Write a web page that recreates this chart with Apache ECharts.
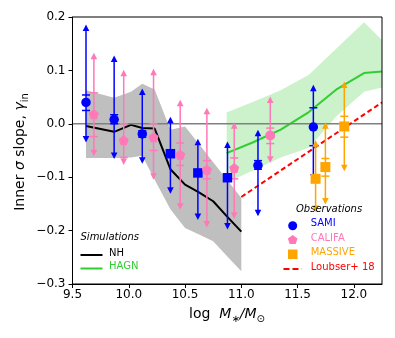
<!DOCTYPE html>
<html>
<head>
<meta charset="utf-8">
<script src="https://cdn.jsdelivr.net/npm/echarts@6/dist/echarts.min.js"></script>
<style>
html,body{margin:0;padding:0;background:#fff;}
#c{width:395px;height:338px;}
</style>
</head>
<body>
<div id="c"></div>
<script>
// ---- Data ----
// NH simulation (black line + grey band)
const NH_X  = [9.62, 9.87, 10.02, 10.12, 10.23, 10.37, 10.5, 10.62, 10.75, 10.87, 11.0];
const NH_Y  = [-0.004, -0.015, -0.002, -0.008, -0.009, -0.085, -0.114, -0.128, -0.145, -0.173, -0.202];
const NH_HI = [0.063, 0.049, 0.060, 0.075, 0.064, -0.011, -0.005, -0.037, -0.072, -0.104, -0.139];
const NH_LO = [-0.064, -0.064, -0.063, -0.060, -0.105, -0.160, -0.195, -0.207, -0.220, -0.247, -0.276];
// HAGN simulation (green line + light green band)
const HAGN_X  = [10.87, 11.1, 11.35, 11.6, 11.85, 12.09, 12.25];
const HAGN_Y  = [-0.055, -0.035, -0.011, 0.022, 0.065, 0.095, 0.098];
const HAGN_HI = [0.021, 0.041, 0.063, 0.092, 0.142, 0.190, 0.157];
const HAGN_LO = [-0.110, -0.088, -0.063, -0.045, 0.015, 0.060, 0.068];
// SAMI observations
const SAMI_X     = [9.62, 9.87, 10.12, 10.37, 10.614, 10.877, 11.148, 11.64];
const SAMI_Y     = [0.040, 0.008, -0.019, -0.056, -0.092, -0.101, -0.078, -0.006];
const SAMI_CAPHI = [0.054, 0.017, -0.013, -0.050, -0.086, -0.095, -0.069, 0.030];
const SAMI_CAPLO = [0.025, 0.000, -0.025, -0.062, -0.098, -0.107, -0.085, -0.041];
const SAMI_HI    = [0.186, 0.128, 0.066, 0.013, -0.028, -0.033, -0.011, 0.073];
const SAMI_LO    = [-0.035, -0.066, -0.075, -0.131, -0.180, -0.198, -0.173, -0.106];
// CALIFA observations
const CALIFA_X     = [9.69, 9.955, 10.22, 10.457, 10.694, 10.937, 11.257];
const CALIFA_Y     = [0.018, -0.031, -0.025, -0.058, -0.086, -0.083, -0.022];
const CALIFA_CAPHI = [0.058, 0.000, 0.000, -0.036, -0.069, -0.064, -0.008];
const CALIFA_CAPLO = [-0.024, -0.063, -0.050, -0.078, -0.103, -0.103, -0.037];
const CALIFA_HI    = [0.133, 0.101, 0.103, 0.045, 0.030, 0.003, 0.051];
const CALIFA_LO    = [-0.061, -0.077, -0.105, -0.161, -0.194, -0.178, -0.073];
// MASSIVE observations
const MASSIVE_X     = [11.66, 11.747, 11.915];
const MASSIVE_Y     = [-0.103, -0.081, -0.005];
const MASSIVE_CAPHI = [-0.097, -0.065, 0.014];
const MASSIVE_CAPLO = [-0.109, -0.098, -0.025];
const MASSIVE_HI    = [-0.031, 0.003, 0.079];
const MASSIVE_LO    = [-0.165, -0.151, -0.089];
// Loubser+18 relation (end points)
const LOUBSER_X = [11.0, 12.25];
const LOUBSER_Y = [-0.137, 0.040];
// Axes
const X_MIN = 9.5, X_MAX = 12.25, X_STEP = 0.5;
const Y_MIN = -0.3, Y_MAX = 0.2, Y_STEP = 0.1;

// ---- Styles ----
const C_SAMI = '#0000ff', C_CALIFA = '#ff78b8', C_MASSIVE = '#ffa500';
const C_GREEN = '#32cd32', C_RED = '#ff0000';
const FONT = 'DejaVu Sans';
const PENTAGON = 'path://M0,-10 L9.51,-3.09 L5.88,8.09 L-5.88,8.09 L-9.51,-3.09 Z';
const SAMI_SHAPES = ['circle','circle','circle','rect','rect','rect','circle','circle'];
const CALIFA_SHAPES = [PENTAGON,PENTAGON,PENTAGON,PENTAGON,PENTAGON,PENTAGON,'circle'];

function bandSeries(xs, lo, hi, color, z) {
  return {
    type: 'custom', z: z, silent: true,
    data: xs.map((x, i) => [x, lo[i], hi[i]]),
    renderItem: function (params, api) {
      if (params.dataIndex !== 0) return { type: 'group', children: [] };
      const pts = [];
      for (let i = 0; i < xs.length; i++) pts.push(api.coord([xs[i], hi[i]]));
      for (let i = xs.length - 1; i >= 0; i--) pts.push(api.coord([xs[i], lo[i]]));
      return { type: 'polygon', shape: { points: pts }, style: { fill: color } };
    }
  };
}

function errSeries(xs, capLo, capHi, lo, hi, color, z) {
  return {
    type: 'custom', z: z, silent: true,
    data: xs.map((x, i) => [x, capLo[i], capHi[i], lo[i], hi[i]]),
    renderItem: function (params, api) {
      const x = api.value(0);
      const cl = api.coord([x, api.value(1)]);
      const ch = api.coord([x, api.value(2)]);
      const lo = api.coord([x, api.value(3)]);
      const hi = api.coord([x, api.value(4)]);
      const cx = cl[0];
      const lw = 1.5, cw = 4, ah = 6.5, aw = 3.3;
      return {
        type: 'group',
        children: [
          { type: 'line', shape: { x1: cx, y1: hi[1] + ah - 1, x2: cx, y2: lo[1] - ah + 1 }, style: { stroke: color, lineWidth: lw } },
          { type: 'line', shape: { x1: cx - cw, y1: ch[1], x2: cx + cw, y2: ch[1] }, style: { stroke: color, lineWidth: lw } },
          { type: 'line', shape: { x1: cx - cw, y1: cl[1], x2: cx + cw, y2: cl[1] }, style: { stroke: color, lineWidth: lw } },
          { type: 'polygon', shape: { points: [[cx, hi[1]], [cx - aw, hi[1] + ah], [cx + aw, hi[1] + ah]] }, style: { fill: color } },
          { type: 'polygon', shape: { points: [[cx, lo[1]], [cx - aw, lo[1] - ah], [cx + aw, lo[1] - ah]] }, style: { fill: color } }
        ]
      };
    }
  };
}

function scatterSeries(xs, ys, shapes, color, size, z) {
  return {
    type: 'scatter', z: z, silent: true,
    data: xs.map((x, i) => ({ value: [x, ys[i]], symbol: shapes[i] })),
    symbolSize: size,
    itemStyle: { color: color, opacity: 1 }
  };
}

const chart = echarts.init(document.getElementById('c'), null, { renderer: 'canvas' });

const legendText = (x, y, text, color, italic) => ({
  type: 'text', left: x, top: y - 7, z: 100,
  style: { text: text, fill: color, font: (italic ? 'italic ' : '') + '10px "DejaVu Sans"', textVerticalAlign: 'top' }
});

chart.setOption({
  animation: false,
  backgroundColor: '#ffffff',
  grid: { left: 72.5, top: 17, width: 309.5, height: 267, show: true, borderColor: '#000', borderWidth: 1, backgroundColor: 'transparent', z: 50 },
  xAxis: {
    type: 'value', min: X_MIN, max: X_MAX, interval: X_STEP,
    axisLine: { show: true, onZero: false, lineStyle: { color: '#000', width: 1 } },
    axisTick: { show: true, length: 4, lineStyle: { color: '#000' } },
    axisLabel: { color: '#000', fontSize: 12, fontFamily: FONT, margin: 5, showMaxLabel: false,
      formatter: v => v.toFixed(1) },
    splitLine: { show: false }
  },
  yAxis: {
    type: 'value', min: Y_MIN, max: Y_MAX, interval: Y_STEP,
    axisLine: { show: true, onZero: false, lineStyle: { color: '#000', width: 1 } },
    axisTick: { show: true, length: 4, lineStyle: { color: '#000' } },
    axisLabel: { color: '#000', fontSize: 12, fontFamily: FONT, margin: 7,
      formatter: v => (Math.abs(v) < 1e-9 ? '0.0' : (v < 0 ? '\u2212' + Math.abs(v).toFixed(1) : v.toFixed(1))) },
    splitLine: { show: false }
  },
  series: [
    bandSeries(NH_X, NH_LO, NH_HI, '#bfbfbf', 1),
    bandSeries(HAGN_X, HAGN_LO, HAGN_HI, '#ccf2cc', 1),
    { type: 'line', z: 3, silent: true, symbol: 'none', data: NH_X.map((x, i) => [x, NH_Y[i]]),
      lineStyle: { color: '#000', width: 2 } },
    { type: 'line', z: 3, silent: true, symbol: 'none', data: HAGN_X.map((x, i) => [x, HAGN_Y[i]]),
      lineStyle: { color: C_GREEN, width: 2 } },
    { type: 'line', z: 4, silent: true, symbol: 'none', data: [[X_MIN, 0], [X_MAX, 0]],
      lineStyle: { color: '#808080', width: 1.5 } },
    { type: 'line', z: 4, silent: true, symbol: 'none', data: LOUBSER_X.map((x, i) => [x, LOUBSER_Y[i]]),
      lineStyle: { color: C_RED, width: 2, type: [5, 3] } },
    errSeries(SAMI_X, SAMI_CAPLO, SAMI_CAPHI, SAMI_LO, SAMI_HI, C_SAMI, 5),
    errSeries(CALIFA_X, CALIFA_CAPLO, CALIFA_CAPHI, CALIFA_LO, CALIFA_HI, C_CALIFA, 5),
    errSeries(MASSIVE_X, MASSIVE_CAPLO, MASSIVE_CAPHI, MASSIVE_LO, MASSIVE_HI, C_MASSIVE, 5),
    scatterSeries(SAMI_X, SAMI_Y, SAMI_SHAPES, C_SAMI, 9.5, 6),
    scatterSeries(CALIFA_X, CALIFA_Y, CALIFA_SHAPES, C_CALIFA, 10, 6),
    scatterSeries(MASSIVE_X, MASSIVE_Y, ['rect', 'rect', 'rect'], C_MASSIVE, 10, 7)
  ],
  graphic: [
    // axis titles
    { type: 'text', x: 227, y: 314, z: 100,
      style: { text: 'log  {i|M}{s|\u2217}{i|/M}{s|\u2299}', fill: '#000', font: '14px "DejaVu Sans"',
        textAlign: 'center', textVerticalAlign: 'middle',
        rich: { i: { fontStyle: 'italic', fontSize: 14, fontFamily: FONT, fill: '#000', verticalAlign: 'middle', lineHeight: 20 },
                s: { fontSize: 10, fontFamily: FONT, fill: '#000', verticalAlign: 'bottom', lineHeight: 20 } } } },
    { type: 'text', x: 20, y: 152, rotation: Math.PI / 2, z: 100,
      style: { text: 'Inner {i|\u03c3} slope, {i|\u03b3}{s|in}', fill: '#000', font: '14px "DejaVu Sans"',
        textAlign: 'center', textVerticalAlign: 'middle',
        rich: { i: { fontStyle: 'italic', fontSize: 14, fontFamily: FONT, fill: '#000', verticalAlign: 'middle', lineHeight: 20 },
                s: { fontSize: 10, fontFamily: FONT, fill: '#000', verticalAlign: 'bottom', lineHeight: 20 } } } },
    // Simulations legend
    legendText(80.5, 239.5, 'Simulations', '#000', true),
    { type: 'line', z: 100, shape: { x1: 80.5, y1: 255, x2: 102.5, y2: 255 }, style: { stroke: '#000', lineWidth: 2 } },
    legendText(109, 255, 'NH', '#000', false),
    { type: 'line', z: 100, shape: { x1: 80.5, y1: 268.5, x2: 102.5, y2: 268.5 }, style: { stroke: C_GREEN, lineWidth: 2 } },
    legendText(109, 268.5, 'HAGN', C_GREEN, false),
    // Observations legend
    legendText(296, 211.5, 'Observations', '#000', true),
    { type: 'circle', z: 100, shape: { cx: 292.7, cy: 225.7, r: 4.5 }, style: { fill: C_SAMI } },
    legendText(310.7, 225.7, 'SAMI', C_SAMI, false),
    { type: 'polygon', z: 100, shape: { points: [[292.7, 235], [297.5, 238.5], [295.7, 244], [289.7, 244], [287.9, 238.5]] }, style: { fill: C_CALIFA } },
    legendText(310.7, 240, 'CALIFA', C_CALIFA, false),
    { type: 'rect', z: 100, shape: { x: 288, y: 249.5, width: 9.5, height: 9.5 }, style: { fill: C_MASSIVE } },
    legendText(310.7, 254.3, 'MASSIVE', C_MASSIVE, false),
    { type: 'line', z: 100, shape: { x1: 283.5, y1: 269, x2: 301.7, y2: 269 }, style: { stroke: C_RED, lineWidth: 2, lineDash: [6, 3] } },
    legendText(310.7, 269, 'Loubser+ 18', C_RED, false)
  ]
});
</script>
</body>
</html>
